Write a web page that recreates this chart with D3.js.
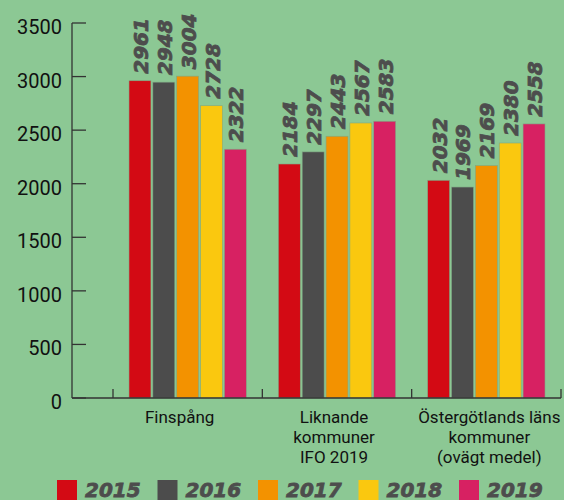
<!DOCTYPE html>
<html>
<head>
<meta charset="utf-8">
<script src="https://cdn.jsdelivr.net/npm/d3@7"></script>
<style>
  html, body { margin: 0; padding: 0; background: #8cc894; }
  svg { display: block; }
</style>
</head>
<body>
<div id="chart"></div>
<script>
// kostnad per invånare, tre grupper, fem år
const kategorier = ["Finspång", "Liknande kommuner IFO 2019", "Östergötlands läns kommuner (ovägt medel)"];
const etiketter = [["Finspång"], ["Liknande", "kommuner", "IFO 2019"], ["Östergötlands läns", "kommuner", "(ovägt medel)"]];
const ar = ["2015", "2016", "2017", "2018", "2019"];
const farger = ["#d30a14", "#4c4c4c", "#f39200", "#fac80f", "#d72162"];
const v2015 = [2961, 2184, 2032];
const v2016 = [2948, 2297, 1969];
const v2017 = [3004, 2443, 2169];
const v2018 = [2728, 2567, 2380];
const v2019 = [2322, 2583, 2558];
const yTicks = [0, 500, 1000, 1500, 2000, 2500, 3000, 3500];

const serier = [v2015, v2016, v2017, v2018, v2019];
const width = 564, height = 500;
const axX = 72;
const fetFont = "'DejaVu Sans', sans-serif";

const svg = d3.select("#chart").append("svg")
    .attr("width", width).attr("height", height);

const y = d3.scaleLinear().domain([0, 3500]).range([398, 23]);
const x = d3.scaleBand().domain(kategorier).range([113, 561]).padding(0);
const xs = d3.scaleBand().domain(ar).range([16, x.bandwidth() - 16]).paddingInner(0.08);
const color = d3.scaleOrdinal().domain(ar).range(farger);

// y-axel
svg.append("line")
    .attr("x1", axX).attr("x2", axX)
    .attr("y1", y(3500)).attr("y2", y(0))
    .attr("stroke", "#333").attr("stroke-width", 1.3);
svg.append("g").selectAll("line").data(yTicks).enter().append("line")
    .attr("x1", axX).attr("x2", axX + 14)
    .attr("y1", d => y(d)).attr("y2", d => y(d))
    .attr("stroke", "#333").attr("stroke-width", 1.3);
svg.append("g").selectAll("text").data(yTicks).enter().append("text")
    .attr("x", 62).attr("y", d => y(d) + 11)
    .attr("text-anchor", "end")
    .style("font-family", "Roboto, sans-serif").style("font-size", "20px")
    .attr("fill", "#111")
    .text(d => d);

// staplar
const grupp = svg.append("g").selectAll("g").data(kategorier).enter().append("g")
    .attr("transform", d => "translate(" + x(d) + ",0)");
grupp.each(function(kat, ki) {
    const g = d3.select(this);
    const rader = ar.map((a, i) => ({ ar: a, v: serier[i][ki] }));
    g.selectAll("rect").data(rader).enter().append("rect")
        .attr("x", d => xs(d.ar))
        .attr("width", xs.bandwidth())
        .attr("y", d => y(d.v))
        .attr("height", d => y(0) - y(d.v))
        .attr("fill", d => color(d.ar))
        .attr("stroke", "#7fa884").attr("stroke-width", 0.6);
    // extra kontur för att få den tjocka stilen
    g.selectAll("text").data(rader).enter().append("text")
        .attr("transform", d => "translate(" + (xs(d.ar) + xs.bandwidth() / 2 + 8) + "," + (y(d.v) - 7) + ") rotate(-90)")
        .style("font-family", fetFont).style("font-size", "20px")
        .style("font-weight", "bold").style("font-style", "oblique")
        .attr("fill", "#4d4d4d")
        .attr("stroke", "#4d4d4d").attr("stroke-width", 0.8)
        .text(d => d.v);
});

// x-axel
svg.append("line")
    .attr("x1", axX).attr("x2", x.range()[1])
    .attr("y1", y(0)).attr("y2", y(0))
    .attr("stroke", "#333").attr("stroke-width", 1.3);
const granser = kategorier.map(k => x(k)).concat([x.range()[1]]);
svg.append("g").selectAll("line").data(granser).enter().append("line")
    .attr("x1", d => d).attr("x2", d => d)
    .attr("y1", y(0)).attr("y2", y(0) - 9)
    .attr("stroke", "#333").attr("stroke-width", 1.3);

// etiketterna sitter lite förskjutna mot bandens mitt
const lblDx = [-8, -3, 3];
svg.append("g").selectAll("text").data(kategorier).enter().append("text")
    .attr("x", (d, i) => x(d) + x.bandwidth() / 2 + lblDx[i])
    .attr("y", 423)
    .attr("text-anchor", "middle")
    .style("font-family", "Roboto, sans-serif").style("font-size", "17px")
    .attr("fill", "#111")
    .each(function(d, i) {
        const t = d3.select(this);
        etiketter[i].forEach((rad, j) => {
            t.append("tspan").attr("x", t.attr("x")).attr("dy", j === 0 ? 0 : 20).text(rad);
        });
    });

// legend
const leg = svg.append("g").selectAll("g").data(ar).enter().append("g")
    .attr("transform", (d, i) => "translate(" + (57 + i * 100.5) + ",480)");
leg.append("rect").attr("width", 20).attr("height", 24).attr("fill", d => color(d));
leg.append("text")
    .attr("x", 28).attr("y", 17)
    .style("font-family", fetFont).style("font-size", "20px")
    .style("font-weight", "bold").style("font-style", "oblique")
    .attr("fill", "#4d4d4d")
    .attr("stroke", "#4d4d4d").attr("stroke-width", 0.8)
    .text(d => d);
</script>
</body>
</html>
